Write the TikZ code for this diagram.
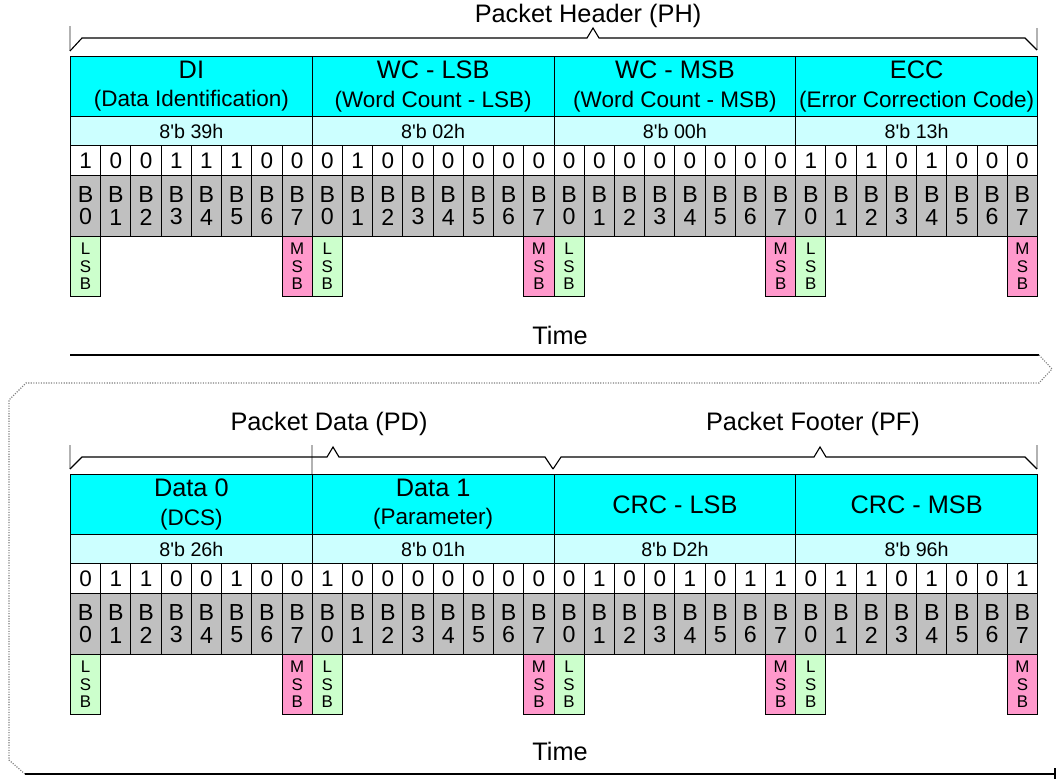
\documentclass[tikz,border=0pt]{standalone}
\usepackage{fontspec}
\setmainfont{Liberation Sans}
\usetikzlibrary{positioning, calc}
\definecolor{hdrCyan}{HTML}{00FFFF}
\definecolor{hexCyan}{HTML}{CCFFFF}
\definecolor{bitGray}{HTML}{C0C0C0}
\definecolor{lsbGreen}{HTML}{CCFFCC}
\definecolor{msbPink}{HTML}{FF99CC}
\newcommand{\bigfont}{\fontsize{18}{20}\selectfont}
\newcommand{\subfont}{\fontsize{16}{18.5}\selectfont}
\newcommand{\apos}{\textquotesingle}
% one block of bit values, bit numbers and LSB/MSB markers
\newcommand{\bitrows}[3]{%
  \foreach \b [count=\i from 0] in {#3} {
    \pgfmathtruncatemacro\bitno{mod(\i,8)}
    \node[valcell] (#2v\i) at ({70+\i*30.21875},{145+#1}) {\b};
    \node[bitcell] (#2b\i) at ({70+\i*30.21875},{175+#1}) {B\\\bitno};
  }
  \foreach \j in {0,...,3} {
    \node[lsbcell] (#2l\j) at ({70+\j*241.75},{236+#1}) {L\\S\\B};
    \node[msbcell] (#2m\j) at ({281.53+\j*241.75},{236+#1}) {M\\S\\B};
  }
}

\begin{document}
\begin{tikzpicture}[x=0.025cm, y=-0.025cm, line width=0.7pt,
    cell/.style={draw, inner sep=0pt, anchor=north west, align=center},
    namecell/.style={cell, fill=hdrCyan, minimum width=6.04375cm, minimum height=1.5cm, font=\bigfont},
    hexcell/.style={cell, fill=hexCyan, minimum width=6.04375cm, minimum height=0.725cm, font={\fontsize{14}{16}\selectfont}},
    valcell/.style={cell, fill=white, minimum width=0.7555cm, minimum height=0.75cm, font={\fontsize{16}{18}\selectfont}},
    bitcell/.style={cell, fill=bitGray, minimum width=0.7555cm, minimum height=1.525cm, font={\fontsize{16.5}{15.8}\selectfont}},
    lsbcell/.style={cell, fill=lsbGreen, minimum width=0.7555cm, minimum height=1.5cm, font={\fontsize{12}{12.4}\selectfont}},
    msbcell/.style={lsbcell, fill=msbPink},
    brace/.style={line width=0.8pt},
    tickline/.style={gray!60, line width=0.8pt},
    timeedge/.style={gray, densely dotted, line width=0.8pt},
    title/.style={font=\bigfont, inner sep=0pt}]
  \useasboundingbox (0,0) rectangle (1057,780);

  % packet header
  \node[title] (ph) at (588,16) {Packet Header (PH)};
  \draw[tickline] (70,26) -- (70,51);
  \draw[tickline] (1037,28) -- (1037,50);
  \draw[brace] (70,51) -- (82,38) -- (587,38) -- (593,28) -- (599,38) -- (1025,38) -- (1037,50);

  \node[namecell] (hdi) at (70,56) {DI\\{\subfont (Data Identification)}};
  \node[namecell] (hwl) at (311.75,56) {WC - LSB\\{\subfont (Word Count - LSB)}};
  \node[namecell] (hwm) at (553.5,56) {WC - MSB\\{\subfont (Word Count - MSB)}};
  \node[namecell] (hecc) at (795.25,56) {ECC\\{\subfont (Error Correction Code)}};
  \node[hexcell] (xdi) at (70,116) {8\apos b 39h};
  \node[hexcell] (xwl) at (311.75,116) {8\apos b 02h};
  \node[hexcell] (xwm) at (553.5,116) {8\apos b 00h};
  \node[hexcell] (xecc) at (795.25,116) {8\apos b 13h};
  \bitrows{0}{t}{1,0,0,1,1,1,0,0, 0,1,0,0,0,0,0,0, 0,0,0,0,0,0,0,0, 1,0,1,0,1,0,0,0}
  \node[title] (time1) at (560,335) {Time};

  % time arrow wrapping to the second line
  \coordinate (a1) at (70,355);
  \coordinate (a2) at (1039,355);
  \coordinate (a3) at (1052,369);
  \coordinate (a4) at (1039,383);
  \coordinate (a5) at (26,383);
  \coordinate (a6) at (9,400);
  \coordinate (a7) at (9,760);
  \coordinate (a8) at (25,774);
  \coordinate (a9) at (1055,774);
  \draw[brace] (a1) -- (a2);
  \draw[timeedge] (a2) -- (a3) -- (a4) -- (a5) -- (a6) -- (a7) -- (a8);
  \draw[brace] (a8) -- (a9);
  \draw[brace] ($(a9)+(0,-6)$) -- ($(a9)+(0,5)$);

  % packet data and footer
  \node[title] (pd) at (329,424) {Packet Data (PD)};
  \node[title] (pf) at (813,424) {Packet Footer (PF)};
  \draw[tickline] (70,445) -- (70,469);
  \draw[tickline] (312,445) -- (312,474);
  \draw[tickline] (1037,445) -- (1037,469);
  \draw[brace] (70,469) -- (82,457) -- (327,457) -- (333,447) -- (339,457) -- (545,457) -- (553,469);
  \draw[brace] (553,469) -- (561,457) -- (814,457) -- (820,447) -- (826,457) -- (1025,457) -- (1037,469);

  \node[namecell] (dd0) at (70,474) {Data 0\\{\subfont (DCS)}};
  \node[namecell] (dd1) at (311.75,474) {Data 1\\{\subfont (Parameter)}};
  \node[namecell] (dcl) at (553.5,474) {CRC - LSB};
  \node[namecell] (dcm) at (795.25,474) {CRC - MSB};
  \node[hexcell] (xd0) at (70,534) {8\apos b 26h};
  \node[hexcell] (xd1) at (311.75,534) {8\apos b 01h};
  \node[hexcell] (xcl) at (553.5,534) {8\apos b D2h};
  \node[hexcell] (xcm) at (795.25,534) {8\apos b 96h};
  \bitrows{418}{d}{0,1,1,0,0,1,0,0, 1,0,0,0,0,0,0,0, 0,1,0,0,1,0,1,1, 0,1,1,0,1,0,0,1}
  \node[title] (time2) at (560,751) {Time};
\end{tikzpicture}
\end{document}
